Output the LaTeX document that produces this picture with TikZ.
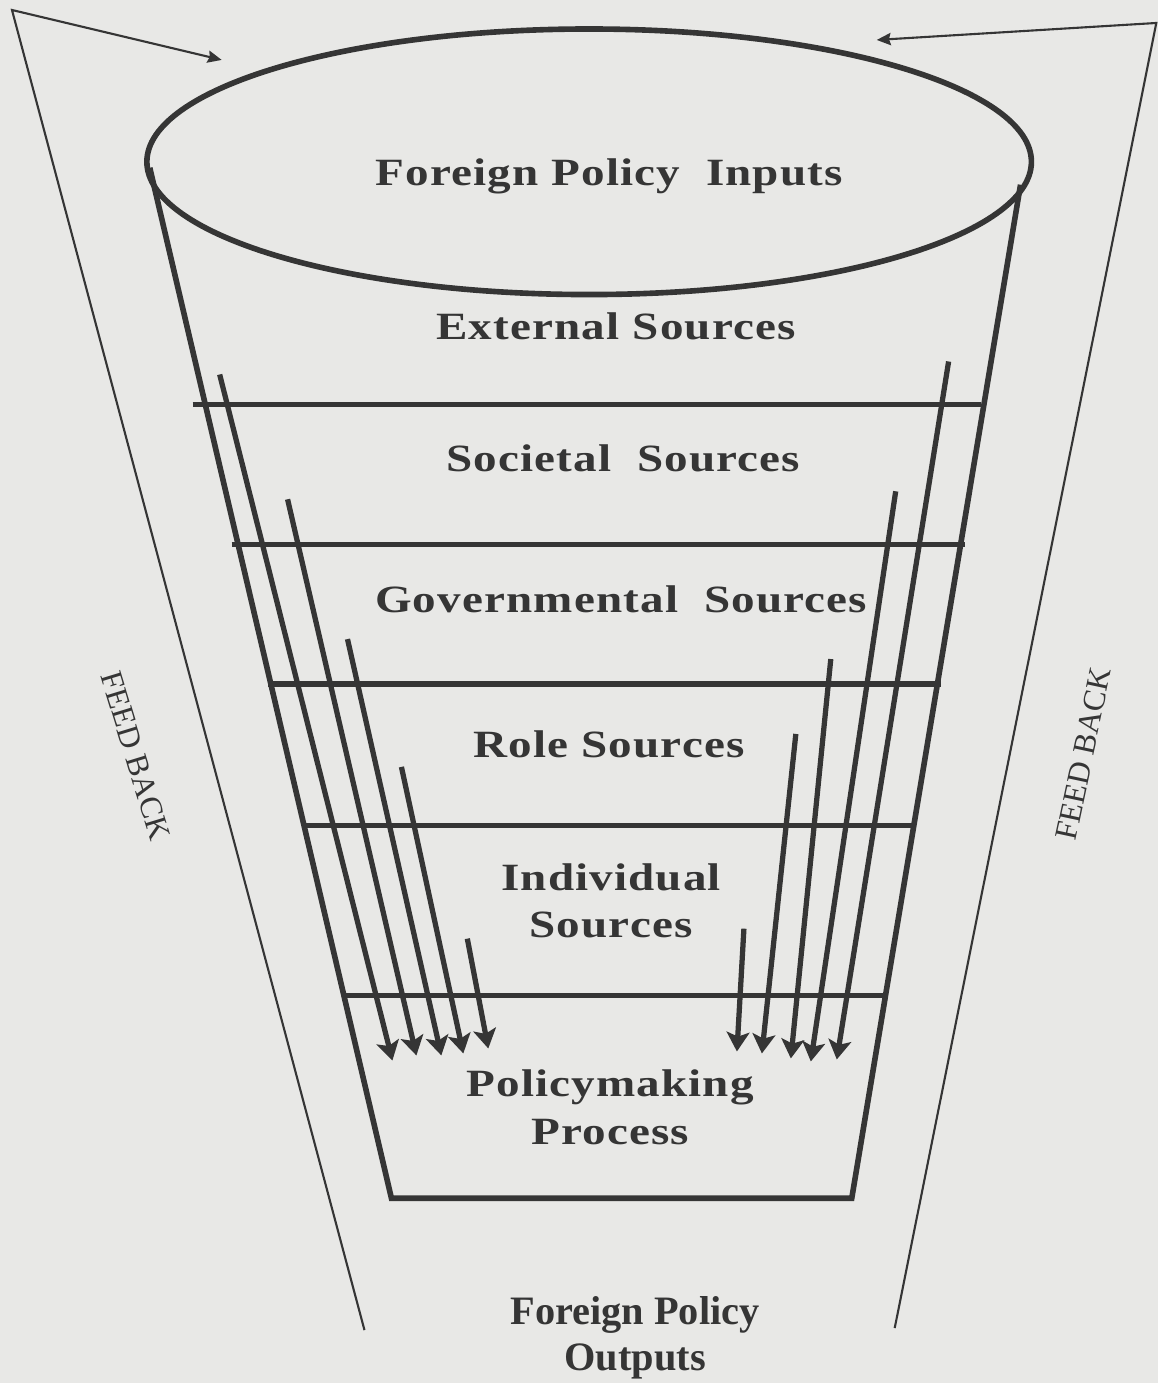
\documentclass[tikz,border=0pt]{standalone}
\usepackage{fontspec}
\setmainfont{Liberation Serif}
\newfontfamily\layerfont[FakeStretch=1.22, LetterSpace=3]{Liberation Serif}
\usetikzlibrary{arrows.meta}
\definecolor{ink}{HTML}{353535}
\definecolor{paper}{HTML}{E8E8E6}
\begin{document}
\begin{tikzpicture}[x=0.02cm, y=-0.02cm,
  funnel/.style={draw=ink, line width=3.2pt, line join=miter},
  divider/.style={draw=ink, line width=3pt},
  flow/.style={draw=ink, line width=3pt, -{Stealth[length=11pt, width=13pt, inset=2.5pt]}},
  fbline/.style={draw=ink, line width=1.2pt, -{Stealth[length=8pt, width=7pt, inset=1pt]}},
  layer/.style={text=ink, align=center, font=\layerfont\bfseries\fontsize{22}{27}\selectfont},
  outlabel/.style={text=ink, align=center, font=\bfseries\fontsize{23}{26}\selectfont},
  fb/.style={text=ink, font=\fontsize{18}{20}\selectfont}]

% paper
\fill[paper] (0,0) rectangle (1160,1385);

% funnel mouth and body
\draw[funnel] (590,162) ellipse [x radius=8.86cm, y radius=2.66cm];
\draw[funnel] (150,168) -- (392,1200) -- (853,1200) -- (1022,185);

% layer dividers
\draw[divider] (193,405) -- (982,405);
\draw[divider] (232,545) -- (966,545);
\draw[divider] (268,685) -- (942,685);
\draw[divider] (302,827) -- (916,827);
\draw[divider] (345,997) -- (889,997);

% labels
\node[layer] (inputs) at (610,177) {Foreign Policy\ \ Inputs};
\node[layer] (external) at (617,327) {External Sources};
\node[layer] (societal) at (624,459) {Societal\ \ Sources};
\node[layer] (govern) at (622,600) {Governmental\ \ Sources};
\node[layer] (role) at (610,745) {Role Sources};
\node[layer] (indiv) at (612,902) {Individual\\Sources};
\node[layer] (policy) at (611,1109) {Policymaking\\Process};
\node[outlabel] (outputs) at (636,1340) {Foreign Policy\\Outputs};

% feedback labels
\node[fb, rotate=-73] (fbleft) at (136,757) {FEED BACK};
\node[fb, rotate=78] (fbright) at (1085,755) {FEED BACK};

% left flows
\coordinate (la1) at (220,375);  \coordinate (lb1) at (393,1062);
\coordinate (la2) at (288,500);  \coordinate (lb2) at (417,1057);
\coordinate (la3) at (348,640);  \coordinate (lb3) at (442,1057);
\coordinate (la4) at (402,768);  \coordinate (lb4) at (464,1055);
\coordinate (la5) at (468,940);  \coordinate (lb5) at (489,1050);
\foreach \i in {1,...,5} \draw[flow] (la\i) -- (lb\i);

% right flows
\coordinate (ra1) at (950,362);  \coordinate (rb1) at (838,1061);
\coordinate (ra2) at (897,492);  \coordinate (rb2) at (812,1063);
\coordinate (ra3) at (832,660);  \coordinate (rb3) at (792,1060);
\coordinate (ra4) at (797,735);  \coordinate (rb4) at (763,1055);
\coordinate (ra5) at (745,930);  \coordinate (rb5) at (738,1053);
\foreach \i in {1,...,5} \draw[flow] (ra\i) -- (rb\i);

% feedback loops
\coordinate (flbot) at (365,1332); \coordinate (fltop) at (12,10); \coordinate (fltip) at (222,60);
\coordinate (frbot) at (896,1330); \coordinate (frtop) at (1158,23); \coordinate (frtip) at (878,40);
\draw[fbline] (flbot) -- (fltop) -- (fltip);
\draw[fbline] (frbot) -- (frtop) -- (frtip);
\end{tikzpicture}
\end{document}
